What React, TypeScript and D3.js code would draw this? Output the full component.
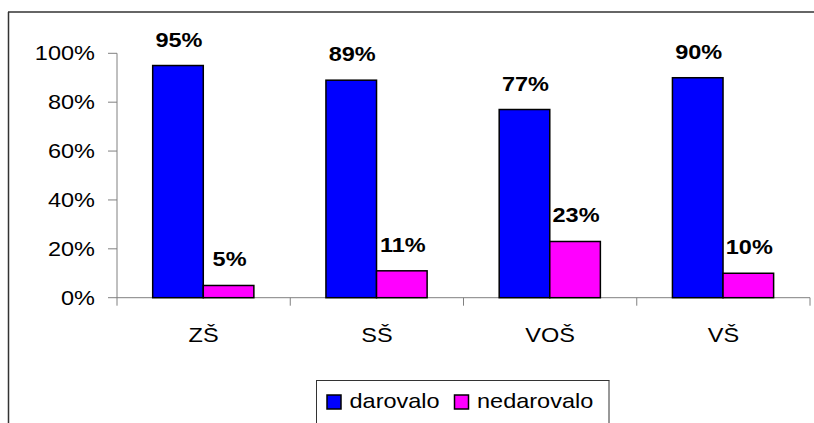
import React from "react";
import * as d3 from "d3";

const categories = ["ZŠ", "SŠ", "VOŠ", "VŠ"];
const seriesNames = ["darovalo", "nedarovalo"];
const darovalo = [0.95, 0.89, 0.77, 0.9];
const nedarovalo = [0.05, 0.11, 0.23, 0.1];
const yTicks = [0, 0.2, 0.4, 0.6, 0.8, 1.0];
const colors = ["#0000FF", "#FF00FF"];

const W = 814;
const H = 423;
const FONT = "'Liberation Sans', Arial, sans-serif";
const SX = 1.12;

function T(props: any) {
  const { anchor = "start", children, bold, size = 21, x, y } = props;
  return (
    <text
      transform={`translate(${x},${y}) scale(${SX},1)`}
      textAnchor={anchor}
      fontFamily={FONT}
      fontSize={size}
      fontWeight={bold ? "bold" : "normal"}
      fill="#000"
    >
      {children}
    </text>
  );
}

export default function App() {
  const plotL = 117;
  const plotR = 810;
  const plotT = 53.3;
  const plotB = 297.7;

  const x0 = d3.scaleBand<string>().domain(categories).range([plotL, plotR]).padding(0);
  const bw = x0.bandwidth();
  const x1 = d3.scaleBand<string>().domain(seriesNames).range([bw * 0.206, bw * 0.79]).padding(0);
  const y = d3.scaleLinear().domain([0, 1]).range([plotB, plotT]);
  const fmt = d3.format(".0%");
  const values = [darovalo, nedarovalo];

  return (
    <div style={{ position: "fixed", left: 0, top: 0, width: W, height: H, overflow: "hidden", background: "#fff" }}>
      <style>{"html,body{margin:0;padding:0;overflow:hidden;}"}</style>
      <svg width={W} height={H} style={{ display: "block" }}>
        <rect x={0} y={0} width={W} height={H} fill="#fff" />
        {/* outer chart border: top and left edges (the rest lies outside the window) */}
        <line x1={8.5} x2={8.5} y1={12} y2={H} stroke="#333" strokeWidth={1.5} />
        <line x1={8} x2={W} y1={12} y2={12} stroke="#333" strokeWidth={1.5} />

        {/* y axis */}
        <line x1={plotL} x2={plotL} y1={plotT} y2={plotB + 8} stroke="#808080" strokeWidth={1} />
        {yTicks.map((t) => (
          <g key={t}>
            <line x1={plotL - 9} x2={plotL} y1={y(t)} y2={y(t)} stroke="#808080" strokeWidth={1} />
            <T x={plotL - 22} y={y(t) + 7} anchor="end">
              {fmt(t)}
            </T>
          </g>
        ))}

        {/* x axis */}
        <line x1={plotL} x2={plotR} y1={plotB} y2={plotB} stroke="#808080" strokeWidth={1} />
        {categories.map((c) => (
          <line
            key={"tk" + c}
            x1={x0(c)! + bw}
            x2={x0(c)! + bw}
            y1={plotB}
            y2={plotB + 8}
            stroke="#808080"
            strokeWidth={1}
          />
        ))}

        {/* bars */}
        {categories.map((c, i) =>
          seriesNames.map((s, j) => {
            const v = values[j][i];
            const bx = x0(c)! + x1(s)!;
            return (
              <g key={c + s}>
                <rect
                  x={bx}
                  y={y(v)}
                  width={x1.bandwidth()}
                  height={plotB - y(v)}
                  fill={colors[j]}
                  stroke="#000"
                  strokeWidth={1.5}
                />
                <T x={bx + x1.bandwidth() / 2 + 1} y={y(v) - 19} anchor="middle" bold>
                  {fmt(v)}
                </T>
              </g>
            );
          })
        )}

        {/* category labels */}
        {categories.map((c) => (
          <T key={"cl" + c} x={x0(c)! + bw / 2} y={plotB + 44} anchor="middle">
            {c}
          </T>
        ))}

        {/* legend (box continues past the window) */}
        <line x1={316.5} x2={316.5} y1={380.5} y2={H} stroke="#333" strokeWidth={1} />
        <line x1={609} x2={609} y1={380.5} y2={H} stroke="#333" strokeWidth={1} />
        <line x1={316} x2={609.5} y1={380.5} y2={380.5} stroke="#333" strokeWidth={1} />
        {seriesNames.map((s, j) => {
          const lx = j === 0 ? 327 : 454.5;
          return (
            <g key={"lg" + s}>
              <rect x={lx} y={395} width={14} height={14} fill={colors[j]} stroke="#000" strokeWidth={1.5} />
              <T x={lx + 22.5} y={408}>
                {s}
              </T>
            </g>
          );
        })}
      </svg>
    </div>
  );
}
